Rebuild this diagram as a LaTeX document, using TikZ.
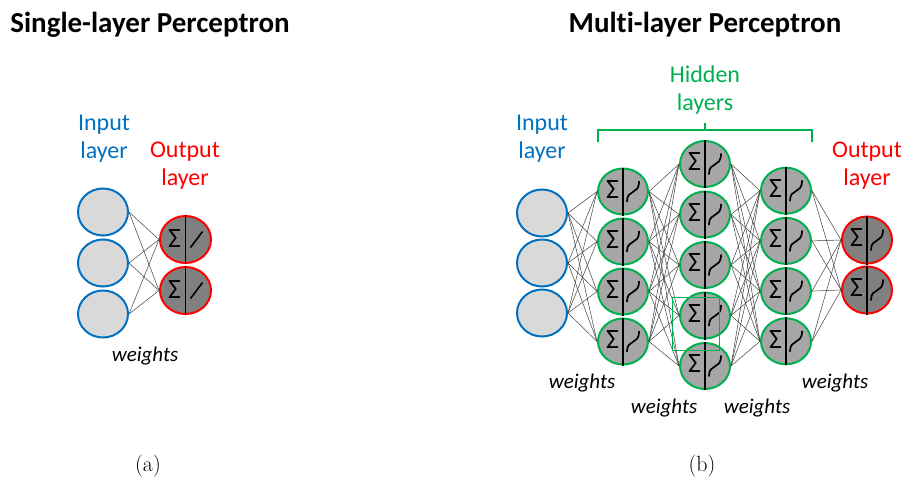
\documentclass[tikz,border=0pt]{standalone}
\usepackage{fontspec}
\usepackage{tikz}
\usetikzlibrary{positioning,shapes.geometric}
\newfontfamily\calfont[Ligatures=NoCommon]{Carlito}
\definecolor{inblue}{HTML}{0070C0}
\definecolor{outred}{HTML}{FF0000}
\definecolor{hidgreen}{HTML}{00B050}
\definecolor{lightfill}{HTML}{D9D9D9}
\definecolor{midfill}{HTML}{A6A6A6}
\definecolor{darkfill}{HTML}{808080}

\tikzset{
	unit/.style={ellipse, inner sep=0pt, minimum width=50pt, minimum height=47pt, line width=2pt},
	inunit/.style={unit, draw=inblue, fill=lightfill},
	hidunit/.style={unit, draw=hidgreen, fill=midfill, minimum height=46pt},
	outunit/.style={unit, draw=outred, fill=darkfill},
	wire/.style={black!75, line width=0.5pt},
	sigmatext/.style={font=\calfont\fontsize{28}{28}\selectfont, inner sep=0pt},
	lbl/.style={font=\calfont\fontsize{24}{28}\selectfont, align=center, anchor=base},
	wlbl/.style={font=\calfont\itshape\fontsize{21}{21}\selectfont, anchor=base},
	ttl/.style={font=\calfont\bfseries\fontsize{29}{29}\selectfont, anchor=base},
	subcap/.style={font=\fontsize{22}{22}\selectfont, anchor=base}
}

% sum and activation drawn inside a unit
\newcommand{\sumlin}[1]{%
	\draw [line width=1.1pt] (#1.north)--(#1.south);
	\node [sigmatext] at ([xshift=-11pt, yshift=1pt]#1.center) {Σ};
	\begin{scope}[shift={(#1.center)}]
		\draw [line width=1.6pt] (5, 8)--(17, -8);
	\end{scope}
}
\newcommand{\sumsig}[1]{%
	\draw [line width=1.1pt] (#1.north)--(#1.south);
	\node [sigmatext] at ([xshift=-10.5pt, yshift=2pt]#1.center) {Σ};
	\begin{scope}[shift={(#1.center)}]
		\draw [line width=1.7pt, line cap=round] (4, 10) .. controls (4, -3) and (16, 4) .. (16, -10);
	\end{scope}
}

\begin{document}
\begin{tikzpicture}[x=1pt, y=-1pt]
	\useasboundingbox (0, 0) rectangle (902, 482);

	% (a) single layer
	\node [ttl] (a-title) at (150, 32) {Single-layer Perceptron};
	\node [lbl, text=inblue] (a-inlbl) at (104, 158) {Input\\layer};
	\node [lbl, text=outred] (a-outlbl) at (185, 185) {Output\\layer};
	\foreach \i/\y in {1/212, 2/263, 3/314}
		\node [inunit] (a-in\i) at (103, \y) {};
	\foreach \i/\y in {1/239.5, 2/290.5} {
		\node [outunit, minimum width=51pt] (a-out\i) at (185.5, \y) {};
		\sumlin{a-out\i}
	}
	\foreach \i in {1, 2, 3}
		\foreach \j in {1, 2}
			\draw [wire] (a-in\i.east)--(a-out\j.west);
	\node [wlbl] (a-w) at (145, 361) {weights};
	\node [subcap] (a-cap) at (148, 471) {(a)};

	% (b) multi layer
	\node [ttl] (b-title) at (705, 32) {Multi-layer Perceptron};
	\node [lbl, text=inblue] (b-inlbl) at (542, 158) {Input\\layer};
	\node [lbl, text=hidgreen] (b-hidlbl) at (705, 110) {Hidden\\layers};
	\node [lbl, text=outred] (b-outlbl) at (867, 185) {Output\\layer};
	\draw [hidgreen, line width=2pt] (598, 142)--(598, 130)--(812, 130)--(812, 142);
	\draw [hidgreen, line width=2pt] (705, 130)--(705, 123);

	\foreach \i/\y in {1/213, 2/263, 3/313}
		\node [inunit] (b-in\i) at (542, \y) {};
	\foreach \i in {1, ..., 4} {
		\node [hidunit] (b-ha\i) at (623, 141.5+50*\i) {};
		\sumsig{b-ha\i}
	}
	\foreach \i in {1, ..., 5} {
		\node [hidunit] (b-hb\i) at (705, 113.5+50.5*\i) {};
		\sumsig{b-hb\i}
	}
	\foreach \i in {1, ..., 4} {
		\node [hidunit] (b-hc\i) at (786, 140.5+50.2*\i) {};
		\sumsig{b-hc\i}
	}
	\foreach \i/\y in {1/240, 2/290} {
		\node [outunit] (b-out\i) at (867, \y) {};
		\sumsig{b-out\i}
	}

	\foreach \i in {1, 2, 3}
		\foreach \j in {1, ..., 4}
			\draw [wire] (b-in\i.east)--(b-ha\j.west);
	\foreach \i in {1, ..., 4}
		\foreach \j in {1, ..., 5}
			\draw [wire] (b-ha\i.east)--(b-hb\j.west);
	\foreach \i in {1, ..., 5}
		\foreach \j in {1, ..., 4}
			\draw [wire] (b-hb\i.east)--(b-hc\j.west);
	\foreach \i in {1, ..., 4}
		\foreach \j in {1, 2}
			\draw [wire] (b-hc\i.east)--(b-out\j.west);
	\draw [hidgreen, line width=1pt] (672, 297) rectangle (719, 350);

	\node [wlbl] (b-w1) at (582, 388) {weights};
	\node [wlbl] (b-w2) at (664, 413) {weights};
	\node [wlbl] (b-w3) at (757, 413) {weights};
	\node [wlbl] (b-w4) at (835, 388) {weights};
	\node [subcap] (b-cap) at (702, 471) {(b)};
\end{tikzpicture}
\end{document}
